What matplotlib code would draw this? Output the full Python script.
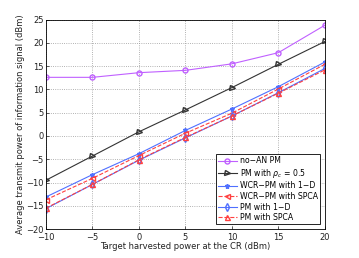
import matplotlib
matplotlib.use("Agg")
import matplotlib.pyplot as plt

x = [-10, -5, 0, 5, 10, 15, 20]

no_an_pm = [12.6, 12.6, 13.6, 14.1, 15.5, 17.9, 23.8]
pm_rho = [-9.5, -4.3, 0.9, 5.6, 10.4, 15.4, 20.3]
wcr_1d = [-13.1, -8.3, -3.8, 1.2, 5.8, 10.6, 15.9]
wcr_spca = [-13.7, -9.1, -4.2, 0.6, 4.9, 10.1, 15.4]
pm_1d = [-15.6, -10.4, -5.2, -0.4, 4.3, 9.3, 14.5]
pm_spca = [-15.5, -10.4, -5.1, -0.3, 4.3, 9.2, 14.2]

xticks = [-10, -5, 0, 5, 10, 15, 20]
yticks = [-20, -15, -10, -5, 0, 5, 10, 15, 20, 25]

plt.rcParams["font.family"] = "DejaVu Sans"
fig = plt.figure(figsize=(3.59, 2.58), dpi=100)
ax = fig.add_axes([0.128, 0.112, 0.777, 0.812])

ms = 3.6
ax.plot(x, no_an_pm, color="#c060ff", marker="o", mfc="none", ms=ms, lw=0.8, label="no\u2212AN PM")
ax.plot(x, pm_rho, color="#333333", marker=">", mfc="none", ms=ms, lw=0.8, label=r"PM with $\rho_c$ = 0.5")
ax.plot(x, wcr_1d, color="#5070ff", marker="*", ms=ms, lw=0.8, label="WCR\u2212PM with 1\u2212D")
ax.plot(x, wcr_spca, color="#ff4040", marker="<", mfc="none", ms=ms, lw=0.8, ls="--", label="WCR\u2212PM with SPCA")
ax.plot(x, pm_1d, color="#5070ff", marker="d", mfc="none", ms=ms, lw=0.8, label="PM with 1\u2212D")
ax.plot(x, pm_spca, color="#ff4040", marker="^", mfc="none", ms=ms, lw=0.8, ls="--", label="PM with SPCA")

ax.set_xlim(-10, 20)
ax.set_ylim(-20, 25)
ax.set_xticks(xticks)
ax.set_yticks(yticks)
ax.set_xticklabels([str(t).replace("-", "\u2212") for t in xticks])
ax.set_yticklabels([str(t).replace("-", "\u2212") for t in yticks])
ax.tick_params(labelsize=6, direction="in", length=2, width=0.5, colors="#222222")
ax.tick_params(axis="x", pad=2.5)
ax.tick_params(axis="y", pad=1.5)
ax.grid(True, linestyle=":", linewidth=0.6, color="#999999")
for s in ax.spines.values():
    s.set_linewidth(0.6)

ax.set_xlabel("Target harvested power at the CR (dBm)", fontsize=6, labelpad=0.5, color="#222222")
ax.set_ylabel("Average transmit power of information signal (dBm)", fontsize=6, labelpad=1, color="#222222")

leg = ax.legend(loc="lower right", fontsize=5.6, frameon=True, fancybox=False,
                edgecolor="black", framealpha=1, handlelength=2.4, borderpad=0.3,
                labelspacing=0.2, handletextpad=0.4, borderaxespad=0.6)
leg.get_frame().set_linewidth(0.6)

fig.savefig("out.png", dpi=100)
